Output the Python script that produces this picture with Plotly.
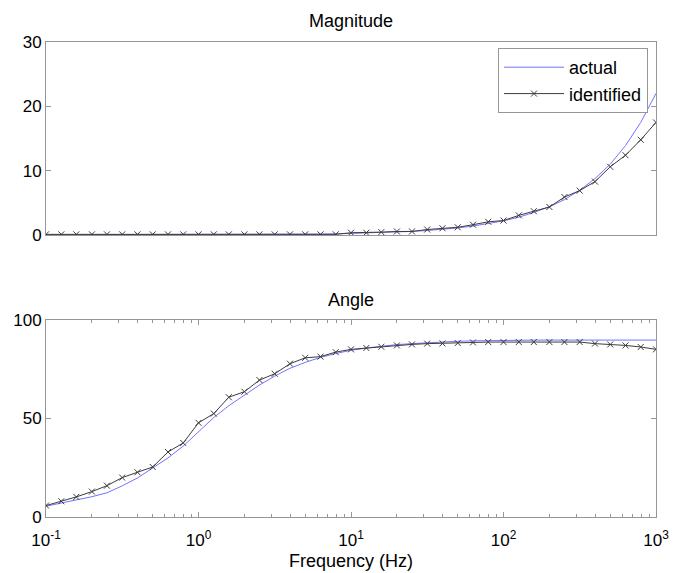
import plotly.graph_objects as go
from plotly.subplots import make_subplots

# Frequencies (Hz): 10 points per decade from 0.1 to 1000
freq = [0.1, 0.126, 0.158, 0.2, 0.251, 0.316, 0.398, 0.501, 0.631, 0.794,
        1.0, 1.26, 1.58, 2.0, 2.51, 3.16, 3.98, 5.01, 6.31, 7.94,
        10.0, 12.6, 15.8, 20.0, 25.1, 31.6, 39.8, 50.1, 63.1, 79.4,
        100.0, 126.0, 158.0, 200.0, 251.0, 316.0, 398.0, 501.0, 631.0, 794.0,
        1000.0]

mag_actual = [0.05, 0.05, 0.05, 0.05, 0.05, 0.05, 0.05, 0.05, 0.05, 0.05,
              0.06, 0.06, 0.07, 0.08, 0.08, 0.09, 0.1, 0.12, 0.15, 0.18,
              0.24, 0.28, 0.36, 0.45, 0.56, 0.7, 0.88, 1.1, 1.39, 1.75,
              2.2, 2.77, 3.5, 4.4, 5.5, 6.95, 8.76, 11.0, 13.9, 17.5,
              22.0]
mag_ident = [0.1, 0.1, 0.1, 0.1, 0.1, 0.1, 0.1, 0.1, 0.1, 0.1,
             0.1, 0.1, 0.1, 0.1, 0.1, 0.1, 0.1, 0.1, 0.1, 0.1,
             0.35, 0.35, 0.45, 0.55, 0.55, 0.85, 1.05, 1.2, 1.6, 2.05,
             2.25, 3.05, 3.7, 4.35, 5.9, 6.9, 8.3, 10.6, 12.4, 14.8,
             17.5]

ang_actual = [5.5, 7.0, 8.5, 10.3, 12.3, 15.8, 19.8, 24.8, 30.0, 36.0,
              43.5, 50.5, 56.5, 62.0, 67.0, 71.5, 75.5, 78.5, 81.0, 83.0,
              84.6, 85.8, 86.8, 87.5, 88.0, 88.5, 88.9, 89.2, 89.4, 89.6,
              89.7, 89.7, 89.8, 89.8, 89.8, 89.8, 89.8, 89.8, 89.8, 89.8,
              89.8]
ang_ident = [5.8, 8.0, 10.2, 12.9, 15.9, 20.0, 22.7, 25.4, 33.0, 37.6,
             47.8, 52.5, 60.8, 63.6, 69.5, 72.7, 77.8, 80.8, 81.4, 83.7,
             85.1, 85.8, 86.4, 87.1, 87.6, 88.0, 88.1, 88.3, 88.6, 88.8,
             88.8, 88.8, 88.8, 88.8, 88.8, 88.8, 88.0, 87.6, 87.1, 86.3,
             85.1]

x_ticks = [0.1, 1, 10, 100, 1000]
x_ticktext = ["10<sup>-1</sup>", "10<sup>0</sup>", "10<sup>1</sup>",
              "10<sup>2</sup>", "10<sup>3</sup>"]
mag_yticks = [0, 10, 20, 30]
ang_yticks = [0, 50, 100]

minor_vals = [m * d for d in [0.1, 1, 10, 100] for m in range(2, 10)]

blue = "rgb(115,115,255)"
dark = "rgb(60,60,60)"
axcol = "rgb(150,150,150)"
font = "Liberation Sans, Arial, sans-serif"

fig = make_subplots(rows=2, cols=1)

fig.add_trace(go.Scatter(x=freq, y=mag_actual, mode="lines", name="actual",
                         line=dict(color=blue, width=1)), row=1, col=1)
fig.add_trace(go.Scatter(x=freq, y=mag_ident, mode="lines+markers", name="identified",
                         line=dict(color=dark, width=1),
                         marker=dict(symbol="x-thin", size=6,
                                     line=dict(color=dark, width=1))), row=1, col=1)
fig.add_trace(go.Scatter(x=freq, y=ang_actual, mode="lines", showlegend=False,
                         line=dict(color=blue, width=1)), row=2, col=1)
fig.add_trace(go.Scatter(x=freq, y=ang_ident, mode="lines+markers", showlegend=False,
                         line=dict(color=dark, width=1),
                         marker=dict(symbol="x-thin", size=6,
                                     line=dict(color=dark, width=1))), row=2, col=1)

W, H = 684, 573
OFF = 8  # page body margin
xdom = [(46 - OFF) / W, (656 - OFF) / W]


def ydom(top, bottom):
    return [1 - (bottom - OFF) / H, 1 - (top - OFF) / H]


common_axis = dict(showline=True, linecolor=axcol, linewidth=1, mirror="ticks",
                   showgrid=False, zeroline=False, automargin=False,
                   tickfont=dict(family=font, size=17, color="black"))

fig.update_layout(
    width=W, height=H,
    margin=dict(l=0, r=0, t=0, b=0),
    paper_bgcolor="white", plot_bgcolor="white",
    font=dict(family=font, color="black"),
    showlegend=True,
    legend=dict(x=(648 - OFF) / W, y=1 - (48 - OFF) / H, xanchor="right", yanchor="top",
                bordercolor=axcol, borderwidth=1, bgcolor="white",
                font=dict(family=font, size=18), tracegroupgap=0,
                itemwidth=60),
    xaxis=dict(common_axis, type="log", range=[-1, 3], domain=xdom,
               showticklabels=False, ticks="", mirror=True),
    yaxis=dict(common_axis, range=[0, 30], domain=ydom(42, 235),
               tickvals=mag_yticks, ticks="inside", ticklen=5, tickcolor=axcol),
    xaxis2=dict(common_axis, type="log", range=[-1, 3], domain=xdom,
                tickvals=x_ticks, ticktext=x_ticktext,
                ticks="inside", ticklen=5, tickcolor=axcol,
                ticklabelstandoff=8,
                minor=dict(tickvals=minor_vals, ticks="inside", ticklen=3,
                           tickcolor=axcol),
                title=dict(text="Frequency (Hz)", font=dict(family=font, size=18),
                           standoff=4)),
    yaxis2=dict(common_axis, range=[0, 100], domain=ydom(320, 517),
                tickvals=ang_yticks, ticks="inside", ticklen=5, tickcolor=axcol),
    annotations=[
        dict(text="Magnitude", x=(xdom[0] + xdom[1]) / 2, y=1 - (20.5 - OFF) / H,
             xref="paper", yref="paper", showarrow=False, yanchor="middle",
             font=dict(family=font, size=18)),
        dict(text="Angle", x=(xdom[0] + xdom[1]) / 2, y=1 - (300 - OFF) / H,
             xref="paper", yref="paper", showarrow=False, yanchor="middle",
             font=dict(family=font, size=18)),
    ],
)

fig.write_html("out.html", config=dict(displayModeBar=False))
